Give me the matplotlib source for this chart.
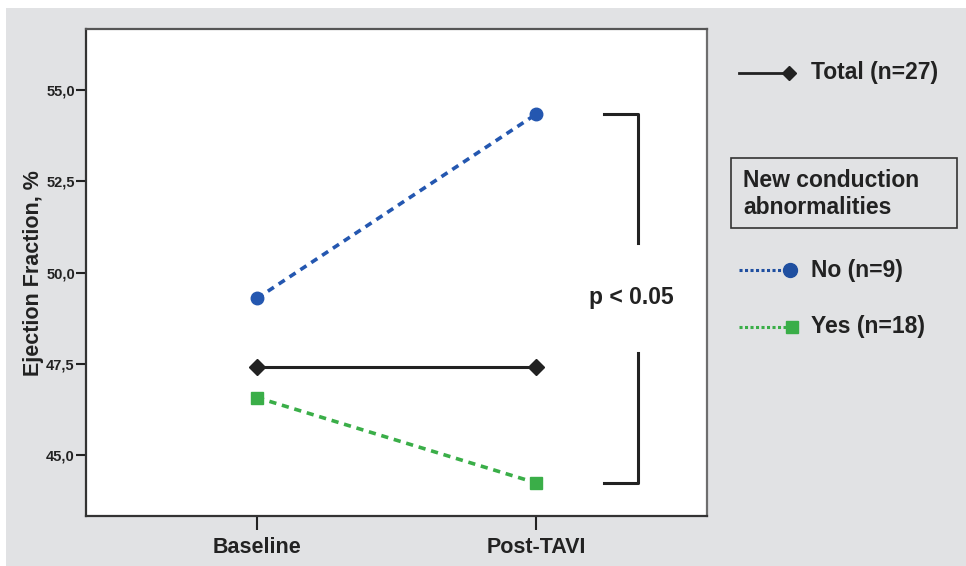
import matplotlib.pyplot as plt
from matplotlib.lines import Line2D
from matplotlib.patches import Rectangle
from matplotlib.ticker import FuncFormatter

plt.rcParams['font.family'] = ['Liberation Sans Narrow', 'Liberation Sans', 'DejaVu Sans']
plt.rcParams['font.weight'] = 'bold'

# Ejection fraction (%) before and after TAVI
timepoints = ['Baseline', 'Post-TAVI']
ef_total = [47.42, 47.42]
ef_no_cd = [49.29, 54.34]
ef_yes_cd = [46.57, 44.23]

blue = '#2457b0'
green = '#3aae48'
bg_gray = '#e1e2e4'
dark = '#222222'
sans = ['Liberation Sans', 'DejaVu Sans']

fig = plt.figure(figsize=(9.66, 5.66), dpi=100)
fig.patch.set_facecolor('white')
fig.add_artist(Rectangle((6 / 966, 0), 1, 1 - 8 / 566, transform=fig.transFigure,
                         facecolor=bg_gray, edgecolor='none', zorder=0))

ax = fig.add_axes([0.0890, 0.0883, 0.6429, 0.8605])
ax.set_facecolor('white')
x = [0, 1]

ax.plot(x, ef_no_cd, color=blue, lw=2.6, dashes=(2.0, 1.6), marker='o', ms=9, zorder=3)
ax.plot(x, ef_yes_cd, color=green, lw=2.6, dashes=(2.0, 1.6), marker='s', ms=9, zorder=3)
ax.plot(x, ef_total, color=dark, lw=2.2, marker='D', ms=8, zorder=4)

# significance bracket
bx0, bx1 = 1.244, 1.366
ax.plot([bx0, bx1, bx1], [ef_no_cd[1], ef_no_cd[1], 50.8], color=dark, lw=2.2)
ax.plot([bx1, bx1, bx0], [47.8, ef_yes_cd[1], ef_yes_cd[1]], color=dark, lw=2.2)
ax.text(bx1 - 0.025, 49.32, 'p < 0.05', ha='center', va='center', fontsize=16.5,
        fontweight='bold', family=sans, color=dark)

ax.set_xlim(-0.613, 1.613)
ax.set_ylim(43.32, 56.68)
ax.set_xticks(x)
ax.set_xticklabels(timepoints, fontsize=15.5, fontweight='bold', family=sans)
ax.set_yticks([45, 47.5, 50, 52.5, 55])
ax.yaxis.set_major_formatter(FuncFormatter(lambda v, p: f'{v:.1f}'.replace('.', ',')))
for lab in ax.get_yticklabels():
    lab.set_fontsize(10.5)
    lab.set_fontweight('bold')
ax.tick_params(axis='y', length=7, width=1.5, color=dark, pad=1, labelcolor=dark)
ax.tick_params(axis='x', length=10, width=1.5, color=dark, pad=5, labelcolor=dark)
for side in ax.spines:
    ax.spines[side].set_linewidth(1.6)
    ax.spines[side].set_color('#333333')
ax.spines['right'].set_color('#6e6e6e')
ax.spines['top'].set_color('#555555')

fig.text(34 / 966, 1 - 273 / 566, 'Ejection Fraction, %', rotation=90, ha='center',
         va='center', fontsize=15.5, fontweight='bold', family=sans, color=dark)

# legend drawn beside the axes
def fx(px):
    return px / 966

def fy(py):
    return 1 - py / 566

leg_font = dict(fontsize=16.5, fontweight='bold', family=sans,
                color=dark, va='center', ha='left')

fig.add_artist(Line2D([fx(739), fx(789)], [fy(73), fy(73)], color=dark, lw=2,
                      marker='D', ms=7, markevery=[1], transform=fig.transFigure))
fig.text(fx(811), fy(72), 'Total (n=27)', **leg_font)

fig.add_artist(Rectangle((fx(731), fy(228)), fx(957) - fx(731), fy(158) - fy(228),
                         transform=fig.transFigure, facecolor='none', edgecolor='#333333',
                         lw=1.2))
fig.text(fx(743), fy(194), 'New conduction\nabnormalities', linespacing=1.25, **leg_font)

fig.add_artist(Line2D([fx(739), fx(790)], [fy(270), fy(270)], color='#1f4fa0', lw=2.2,
                      dashes=(1, 0.8), marker='o', ms=10, markevery=[1],
                      transform=fig.transFigure))
fig.text(fx(811), fy(270), 'No (n=9)', **leg_font)

fig.add_artist(Line2D([fx(739), fx(792)], [fy(327), fy(327)], color=green, lw=2.2,
                      dashes=(1, 0.8), marker='s', ms=9, markevery=[1],
                      transform=fig.transFigure))
fig.text(fx(811), fy(327), 'Yes (n=18)', **leg_font)

fig.savefig('out.png', dpi=100, facecolor=fig.get_facecolor())
